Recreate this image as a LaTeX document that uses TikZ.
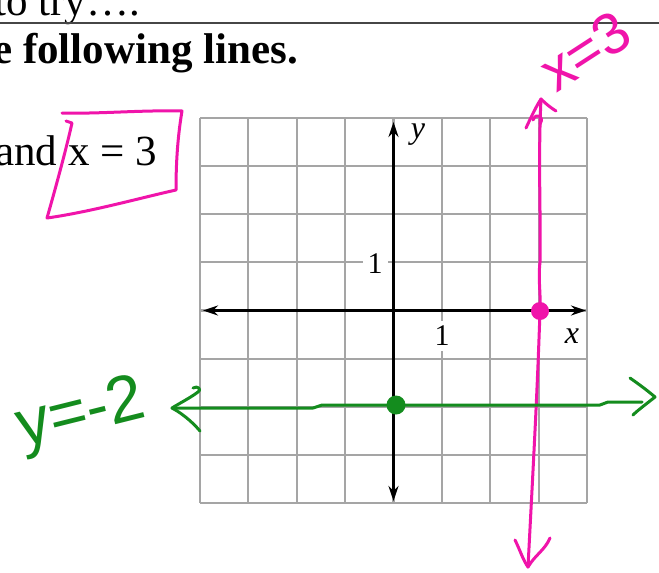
\documentclass[tikz,border=0pt]{standalone}
\usepackage{fontspec}
\setmainfont{Liberation Serif}
\newfontfamily\handfont{Liberation Sans}
\usetikzlibrary{arrows.meta}
\definecolor{penpink}{RGB}{240,20,170}
\definecolor{pengreen}{RGB}{20,140,30}
\definecolor{gridgray}{RGB}{165,165,165}
\definecolor{rulegray}{RGB}{70,70,70}
\begin{document}
\begin{tikzpicture}[x=1pt,y=-1pt,
  gridline/.style={gridgray,line width=2.2pt},
  axisline/.style={black,line width=3.5pt,{Stealth[length=15pt,width=10pt]}-{Stealth[length=15pt,width=10pt]}},
  pen/.style={line width=3pt,line cap=round,line join=round},
  pinkpen/.style={pen,penpink},
  greenpen/.style={pen,pengreen},
  booktext/.style={inner sep=0pt,anchor=base west,font=\fontsize{43}{50}\selectfont},
  ticklabel/.style={fill=white,inner sep=5pt,font=\fontsize{30}{34}\selectfont},
  axislabel/.style={inner sep=0pt,font=\fontsize{32}{36}\selectfont\itshape},
  hand/.style={inner sep=0pt,anchor=base west,font=\handfont\fontsize{#1}{#1}\selectfont}]
\useasboundingbox (0,0) rectangle (659,573);
\fill[white] (0,0) rectangle (659,573);

% header texts
\node[booktext] (try) at (-6,15) {to try….};
\coordinate (ruleL) at (0,23);
\coordinate (ruleR) at (659,23);
\draw[rulegray,line width=2pt] (ruleL) -- (ruleR);
\node[booktext,font=\fontsize{43}{50}\selectfont\bfseries] (head) at (-7,63) {e following lines.};
\node[booktext,font=\fontsize{43}{50}\selectfont] (andx) at (-5,165) {and x = 3};

% grid
\foreach \i in {0,...,8} {
  \draw[gridline] ({200+48.375*\i},118) -- ({200+48.375*\i},503);
  \draw[gridline] (200,{118+48.125*\i}) -- (587,{118+48.125*\i});
}
\node[ticklabel] (ylab1) at (375,264) {1};
\node[ticklabel] (xlab1) at (442,336) {1};

% axes
\coordinate (xaxL) at (203,310.5);
\coordinate (xaxR) at (586,310.5);
\coordinate (yaxT) at (393.5,122);
\coordinate (yaxB) at (393.5,501);
\draw[axisline] (xaxL) -- (xaxR);
\draw[axisline] (yaxB) -- (yaxT);
\node[axislabel] (ylab) at (418,135) {y};
\node[axislabel] (xlab) at (572,336) {x};

% pink box around x = 3
\draw[pinkpen] (66,121) -- (72,123) .. controls (66,150) and (55,190) .. (47,218)
  .. controls (90,212) and (140,198) .. (176,190)
  .. controls (176,160) and (178,135) .. (182,111)
  .. controls (140,110) and (100,114) .. (62,113);

% pink line x = 3
\coordinate (pinkTop) at (541,99);
\coordinate (pinkBot) at (528,567);
\draw[pinkpen] (pinkTop) .. controls (538,160) and (541,220) .. (540,262)
  .. controls (538,280) and (541,295) .. (540,311)
  .. controls (537,400) and (533,470) .. (pinkBot);
\draw[pinkpen] (515,540) .. controls (520,550) and (523,560) .. (pinkBot)
  .. controls (535,555) and (545,550) .. (550,538);
\draw[pinkpen] (526,128) .. controls (532,115) and (537,105) .. (pinkTop)
  .. controls (546,104) and (551,108) .. (556,111);
\draw[pinkpen] (533,120) .. controls (536,112) and (545,116) .. (540,124);
\node[circle,fill=penpink,minimum size=18pt,inner sep=0pt] (pinkdot) at (540,311) {};
\node[hand=58,penpink,rotate=33] (xeq) at (556,94) {x=3};

% green line y = -2
\coordinate (greenL) at (172,408);
\coordinate (greenR) at (655,397);
\draw[greenpen] (greenL) -- (313,408) -- (322,405) -- (600,405) -- (608,402) -- (642,402);
\draw[greenpen] (193,388) .. controls (198,385) and (202,390) .. (198,392)
  .. controls (190,398) and (180,403) .. (greenL)
  .. controls (185,415) and (195,425) .. (200,431);
\draw[greenpen] (630,378) .. controls (640,385) and (648,391) .. (greenR)
  .. controls (645,405) and (638,410) .. (633,415);
\node[circle,fill=pengreen,minimum size=19pt,inner sep=0pt] (greendot) at (396,405) {};
\node[hand=66,pengreen,rotate=14] (yeq) at (22,448) {y=-2};
\end{tikzpicture}
\end{document}
